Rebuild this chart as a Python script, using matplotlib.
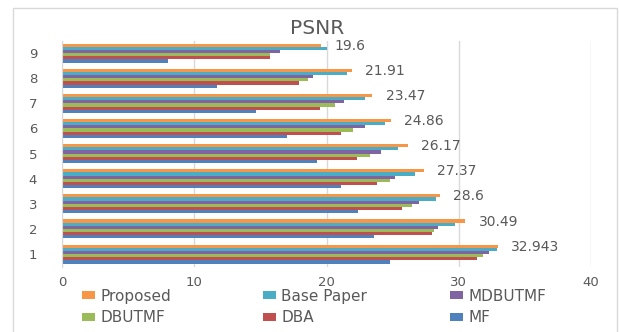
import matplotlib
matplotlib.use("Agg")
import matplotlib.pyplot as plt
import numpy as np
from matplotlib.patches import Rectangle

categories = ["1", "2", "3", "4", "5", "6", "7", "8", "9"]
series_names = ["MF", "DBA", "DBUTMF", "MDBUTMF", "Base Paper", "Proposed"]
mf         = [24.8, 23.6, 22.4, 21.1, 19.3, 17.0, 14.7, 11.7, 8.0]
dba        = [31.4, 28.0, 25.7, 23.8, 22.3, 21.1, 19.5, 17.9, 15.7]
dbutmf     = [31.8, 28.1, 26.5, 24.8, 23.3, 22.0, 20.65, 18.6, 15.7]
mdbutmf    = [32.25, 28.4, 27.0, 25.2, 24.1, 22.9, 21.3, 19.0, 16.5]
base_paper = [32.9, 29.7, 28.3, 26.7, 25.4, 24.4, 22.9, 21.55, 20.0]
proposed   = [32.943, 30.49, 28.6, 27.37, 26.17, 24.86, 23.47, 21.91, 19.6]
proposed_labels = ["32.943", "30.49", "28.6", "27.37", "26.17", "24.86", "23.47", "21.91", "19.6"]
colors = ["#4F81BD", "#C0504D", "#9BBB59", "#8064A2", "#4BACC6", "#F79646"]
xticks = [0, 10, 20, 30, 40]

data = [mf, dba, dbutmf, mdbutmf, base_paper, proposed]

W, H = 619, 332
fig = plt.figure(figsize=(W/100, H/100), dpi=100)
fig.patch.set_facecolor("white")

# outer border (bottom edge falls outside the image)
fig.patches.append(Rectangle((12.5/W, -0.2), (617-12.5)/W, 1.2 - 8/H,
                             transform=fig.transFigure, fill=False,
                             edgecolor="#D9D9D9", linewidth=1.0))

ax = fig.add_axes([62/W, 1-266.6/H, (591-62)/W, (266.6-40.6)/H])
y = np.arange(1, len(categories)+1)
group = 0.757
h = group / 6
handles = {}
for i, (name, vals, c) in enumerate(zip(series_names, data, colors)):
    off = (i - 2.5) * h
    b = ax.barh(y + off, vals, height=h, color=c, label=name, zorder=2)
    handles[name] = b

for yi, v, lab in zip(y, proposed, proposed_labels):
    ax.text(v + 1.0, yi + 2.5*h - 0.02, lab, ha="left", va="center",
            fontsize=10, color="#595959")

ax.set_xlim(0, 40)
ax.set_ylim(0.5, 9.5)
ax.set_xticks(xticks)
ax.set_yticks(y)
ax.set_yticklabels(categories)
ax.xaxis.grid(True, color="#D9D9D9", linewidth=1.0, zorder=0)
ax.set_axisbelow(True)
for s in ["top", "right", "bottom"]:
    ax.spines[s].set_visible(False)
ax.spines["left"].set_color("#D9D9D9")
ax.tick_params(axis="both", length=0, colors="#595959", labelsize=9.5)
ax.tick_params(axis="x", pad=7)
ax.tick_params(axis="y", pad=18)

fig.text(317/W, 1-28/H, "PSNR", ha="center", va="center", fontsize=14.5, color="#595959")

columns = [["Proposed", "DBUTMF"], ["Base Paper", "DBA"], ["MDBUTMF", "MF"]]
col_x = [82, 263, 450]
for names, cx in zip(columns, col_x):
    leg = fig.legend([handles[n] for n in names], names, ncol=1,
                     loc="center left", bbox_to_anchor=(cx/W, 1-307/H),
                     frameon=False, fontsize=11, handlelength=0.85, handleheight=0.45,
                     handletextpad=0.35, labelspacing=0.45,
                     borderaxespad=0, borderpad=0)
    for t in leg.get_texts():
        t.set_color("#595959")

fig.savefig("out.png", dpi=100, facecolor="white")
